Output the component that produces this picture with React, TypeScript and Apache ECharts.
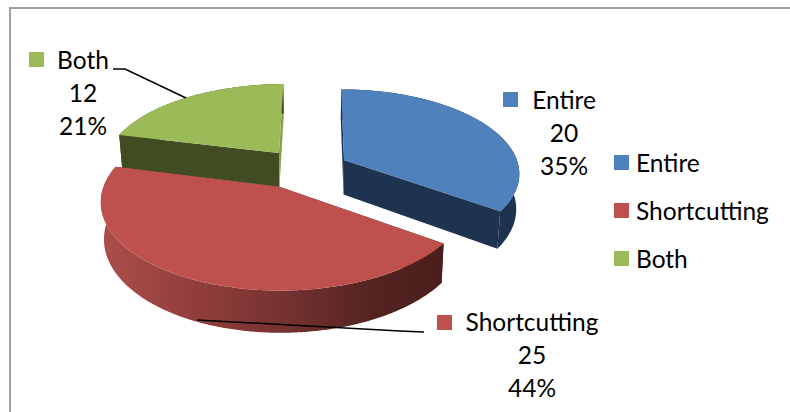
import React, { useEffect, useRef } from "react";
import * as echarts from "echarts";

const categories = ["Entire", "Shortcutting", "Both"];
const values = [20, 25, 12];
const percents = [35, 44, 21];

// Layout and perspective of the drawing, separate from the data.
const FONT = "Lato";
const FONT_SIZE = 24.5;
const TOP_COLORS = ["#4f81bd", "#be504d", "#9bbb59"];
const APEX: number[][] = [[344, 160], [280, 187], [279, 153]];
const ARC_SHIFT = [3, 5, 2];
const ARC_STRETCH = [1, 1.02, 1.03];
const DRAW_ORDER = [2, 0, 1];
const START_ANGLE = -0.5;
const RADIUS = 178;
const DIST = RADIUS / 0.1474;
const VP_X = 312;
const VP_Y = -412;
const PLANE_H = 599;
const DEPTH = 36;
const BASE_X_SCALE = 0.985;

const total = values.reduce((a, b) => a + b, 0);

function toWorld(sx: number, sy: number) {
  const w = (sy - VP_Y) / PLANE_H;
  return [(sx - VP_X) / w, DIST * (1 - 1 / w)];
}
function project(X: number, Z: number, base: boolean) {
  const w = 1 / (1 - Z / DIST);
  const x = X * w;
  return [VP_X + (base ? x * BASE_X_SCALE : x), VP_Y + (PLANE_H + (base ? DEPTH : 0)) * w];
}

function wallStyle(i: number, kind: "rim" | "first" | "last") {
  if (i === 1 && kind === "rim") {
    return {
      fill: new echarts.graphic.LinearGradient(
        100, 0, 445, 0,
        [
          { offset: 0, color: "#ac4e4b" },
          { offset: 0.3, color: "#8f3d3a" },
          { offset: 0.55, color: "#733130" },
          { offset: 0.8, color: "#532320" },
          { offset: 1, color: "#4a1e1c" },
        ],
        true
      ),
    };
  }
  if (i === 2 && kind === "last") return { fill: "#80a04a" };
  if (i === 2) return { fill: "#414c23" };
  if (i === 1) return { fill: "#4a1e1c" };
  return { fill: "#1e334f" };
}

function sliceRenderer(i: number) {
  return (_params: any, api: any) => {
    const before = values.slice(0, i).reduce((a, b) => a + b, 0);
    const a0 = START_ANGLE + (before / total) * 360;
    const a1 = a0 + (api.value(0) / total) * 360;
    const [ax, az] = toWorld(APEX[i][0], APEX[i][1]);
    const top: number[][] = [];
    const bot: number[][] = [];
    const steps = Math.ceil(a1 - a0) * 2;
    for (let s = 0; s <= steps; s++) {
      const t = ((a0 + ((a1 - a0) * s) / steps) * Math.PI) / 180;
      const X = ax + ARC_SHIFT[i] + RADIUS * ARC_STRETCH[i] * Math.sin(t);
      const Z = az - RADIUS * Math.cos(t);
      top.push(project(X, Z, false));
      bot.push(project(X, Z, true));
    }
    const apexTop = project(ax, az, false);
    const apexBot = project(ax, az, true);
    const poly = (points: number[][], style: any) => ({ type: "polygon", shape: { points }, style });
    return {
      type: "group",
      children: [
        poly([apexTop, top[0], bot[0], apexBot], wallStyle(i, "first")),
        poly([apexTop, top[steps], bot[steps], apexBot], wallStyle(i, "last")),
        poly([...top, ...bot.slice().reverse()], wallStyle(i, "rim")),
        poly([apexTop, ...top], { fill: TOP_COLORS[i] }),
      ],
    };
  };
}

const text = (x: number, y: number, i: number) => ({
  type: "text",
  z: 100,
  x,
  y,
  style: {
    text: `${categories[i]}\n${values[i]}\n${percents[i]}%`,
    font: `${FONT_SIZE}px ${FONT}`,
    fill: "#000",
    align: "center",
    verticalAlign: "top",
    lineHeight: 33,
  },
});
const square = (x: number, y: number, i: number) => ({
  type: "rect",
  z: 100,
  shape: { x, y, width: 15, height: 15 },
  style: { fill: TOP_COLORS[i] },
});
const line = (points: number[][], stroke: string, lineWidth: number) => ({
  type: "polyline",
  z: 100,
  shape: { points },
  style: { stroke, lineWidth, fill: "none" },
});

export default function App() {
  const ref = useRef<HTMLDivElement>(null);
  useEffect(() => {
    const chart = echarts.init(ref.current!, undefined, { renderer: "svg" });
    chart.setOption({
      animation: false,
      backgroundColor: "#fff",
      legend: {
        data: categories,
        orient: "vertical",
        left: 614,
        top: 150,
        padding: 0,
        itemWidth: 15,
        itemHeight: 15,
        itemGap: 23,
        icon: "rect",
        selectedMode: false,
        textStyle: { fontFamily: FONT, fontSize: FONT_SIZE, color: "#000", padding: [0, 0, 0, 2] },
      },
      series: DRAW_ORDER.map((i, order) => ({
        type: "custom",
        name: categories[i],
        coordinateSystem: "none",
        silent: true,
        z: 2 + order,
        itemStyle: { color: TOP_COLORS[i] },
        data: [[values[i]]],
        renderItem: sliceRenderer(i),
      })),
      graphic: [
        line([[10, 412], [10, 8], [790, 8]], "#a0a0a0", 2),
        line([[113, 69], [125, 69], [186, 98]], "#000", 1.5),
        line([[197, 320], [400, 331], [424, 332]], "#000", 1.5),
        square(29, 52, 2),
        text(83, 43, 2),
        square(503, 92, 0),
        text(564, 83, 0),
        square(437, 315, 1),
        text(532, 305, 1),
      ],
    });
    return () => chart.dispose();
  }, []);
  return <div ref={ref} style={{ position: "fixed", left: 0, top: 0, width: 790, height: 412 }} />;
}
